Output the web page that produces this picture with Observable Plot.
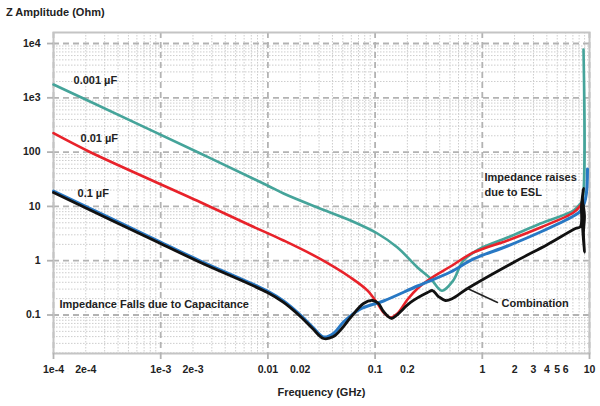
<!DOCTYPE html>
<html><head><meta charset="utf-8">
<script src="https://cdn.jsdelivr.net/npm/d3@7"></script>
<script src="https://cdn.jsdelivr.net/npm/@observablehq/plot@0.6"></script>
<style>
body{margin:0;background:#fff;font-family:"Liberation Sans",Arial,sans-serif;}
#title{height:24px;line-height:24px;padding-left:6px;font-weight:bold;font-size:11px;color:#222;}
</style></head><body>
<div id="title">Z Amplitude (Ohm)</div>
<div id="chart"></div>
<script>
// Frequency in GHz, impedance in Ohm
const tealF = [1e-4, 1.905e-4, 2.35e-3, 9.91e-3, 0.0140, 0.0290, 0.0590, 0.1052, 0.1618, 0.2488, 0.329, 0.42, 0.53, 0.668, 0.962, 1.718, 3.49, 7.09, 8.24, 8.60, 8.79];
const tealZ = [1758, 971, 94.2, 24.3, 17.3, 9.55, 5.50, 3.17, 1.75, 0.750, 0.470, 0.280, 0.42, 1.01, 1.68, 2.67, 4.84, 8.40, 11.3, 12.85, 7760];

const redF = [1e-4, 2.21e-4, 2.35e-3, 6.89e-3, 0.0140, 0.0290, 0.0590, 0.0850, 0.1052, 0.1198, 0.1393, 0.1618, 0.2006, 0.2488, 0.329, 0.505, 0.8285, 1.718, 3.49, 7.09, 8.24, 8.79];
const redZ = [223, 99.5, 11.95, 4.45, 2.36, 1.15, 0.491, 0.282, 0.163, 0.111, 0.0900, 0.1066, 0.193, 0.307, 0.470, 0.782, 1.42, 2.36, 4.09, 7.72, 10.4, 12.85];

const blueF = [1e-4, 9.96e-4, 2.35e-3, 9.91e-3, 0.0140, 0.0201, 0.0261, 0.0330, 0.0409, 0.0507, 0.0731, 0.1198, 0.2488, 0.505, 0.8285, 1.718, 3.49, 7.09, 8.24, 9.18, 9.58];
const blueZ = [18.0, 2.07, 0.927, 0.259, 0.170, 0.0937, 0.0564, 0.0369, 0.043, 0.0697, 0.121, 0.170, 0.321, 0.581, 1.01, 1.75, 3.17, 6.25, 7.72, 12.85, 45.8];

const blackF = [1e-4, 9.96e-4, 2.35e-3, 9.91e-3, 0.0140, 0.0201, 0.0261, 0.0330, 0.0409, 0.0507, 0.0590, 0.0780, 0.0946, 0.1076, 0.1198, 0.1422, 0.1618, 0.2139, 0.3084, 0.343, 0.390, 0.4537, 0.527, 0.728, 1.954, 4.06, 7.40, 8.24, 8.42, 8.79, 8.60, 8.98, 8.79, 8.98, 8.79, 8.60, 8.79];
const blackZ = [18.0, 2.07, 0.927, 0.259, 0.170, 0.0937, 0.0564, 0.0369, 0.0402, 0.0614, 0.0900, 0.163, 0.185, 0.163, 0.116, 0.0863, 0.102, 0.170, 0.259, 0.282, 0.219, 0.185, 0.201, 0.307, 0.927, 1.99, 3.92, 4.26, 10.4, 21.4, 14.0, 6.80, 3.30, 1.42, 2.36, 5.06, 10.4];

const annoText = ["0.001 µF", "0.01 µF", "0.1 µF", "Impedance Falls due to Capacitance", "Impedance raises", "due to ESL", "Combination"];
const annoF = [1.537e-4, 1.787e-4, 1.675e-4, 1.137e-4, 1.048, 1.048, 1.51];
const annoZ = [2083, 178, 17.3, 0.156, 34.0, 18.0, 0.163];

const leaderF = [0.728, 1.387];
const leaderZ = [0.307, 0.170];

const xTicks = [1e-4, 2e-4, 1e-3, 2e-3, 0.01, 0.02, 0.1, 0.2, 1, 2, 3, 4, 5, 6, 10];
const xTickLabels = ["1e-4", "2e-4", "1e-3", "2e-3", "0.01", "0.02", "0.1", "0.2", "1", "2", "3", "4", "5", "6", "10"];
const yTicks = [1e4, 1e3, 100, 10, 1, 0.1];
const yTickLabels = ["1e4", "1e3", "100", "10", "1", "0.1"];
const xDecades = [1e-4, 1e-3, 1e-2, 1e-1, 1, 10];
const yDecades = [0.1, 1, 10, 100, 1e3, 1e4];

const toRows = (F, Z) => F.map((f, i) => ({f, z: Z[i]}));
const minor = (decs) => decs.flatMap(d => [2,3,4,5,6,7,8,9].map(k => d * k));
const xMinor = minor([1e-4, 1e-3, 1e-2, 1e-1, 1]);
const yMinor = minor([0.01, 0.1, 1, 10, 100, 1e3, 1e4]).filter(v => v < 15960);
const annos = annoText.map((t, i) => ({t, f: annoF[i], z: annoZ[i]}));

const chart = Plot.plot({
  width: 600, height: 382,
  marginLeft: 53, marginRight: 11, marginTop: 8, marginBottom: 53,
  x: {type: "log", domain: [1e-4, 10]},
  y: {type: "log", domain: [0.01954, 15960]},
  style: {fontFamily: "'Liberation Sans', Arial, sans-serif", fontWeight: "bold", color: "#222", background: "#fff"},
  marks: [
    Plot.ruleX(xMinor, {stroke: "#cdcdcd", strokeWidth: 1, strokeDasharray: "1.5,1.5"}),
    Plot.ruleY(yMinor, {stroke: "#cdcdcd", strokeWidth: 1, strokeDasharray: "1.5,1.5"}),
    Plot.ruleX(xDecades, {stroke: "#b3b3b3", strokeWidth: 1.8, strokeDasharray: "6,4"}),
    Plot.ruleY(yDecades, {stroke: "#b3b3b3", strokeWidth: 1.8, strokeDasharray: "6,4"}),
    Plot.frame({stroke: "#c4c4c4", strokeWidth: 2}),
    Plot.axisX(xDecades, {tickSize: 6, text: () => "", stroke: "#b3b3b3", strokeWidth: 1.8, label: null}),
    Plot.axisY(yTicks, {tickSize: 6, text: () => "", stroke: "#b3b3b3", strokeWidth: 1.8, label: null}),
    Plot.axisX(xTicks, {tickSize: 0, tickPadding: 12, text: xTickLabels, fontSize: 10.5, fill: "#222", label: null}),
    Plot.axisY(yTicks, {tickSize: 0, tickPadding: 13, text: yTickLabels, fontSize: 10.5, fill: "#222", label: null}),
    Plot.axisX([], {tickSize: 0, label: "Frequency (GHz)", labelAnchor: "center", labelArrow: "none", labelOffset: 42, dx: 6, fontSize: 11, fill: "#222"}),
    Plot.line(toRows(tealF, tealZ), {x: "f", y: "z", stroke: "#45a49a", strokeWidth: 2.6, curve: "catmull-rom"}),
    Plot.line(toRows(redF, redZ), {x: "f", y: "z", stroke: "#e8222a", strokeWidth: 2.6, curve: "catmull-rom"}),
    Plot.line(toRows(blueF, blueZ), {x: "f", y: "z", stroke: "#2878c4", strokeWidth: 3, dy: -1.5, curve: "catmull-rom"}),
    Plot.line(toRows(blackF, blackZ), {x: "f", y: "z", stroke: "#111", strokeWidth: 2.8, curve: "catmull-rom"}),
    Plot.line(toRows(leaderF, leaderZ), {x: "f", y: "z", stroke: "#222", strokeWidth: 1.5}),
    Plot.text(annos, {x: "f", y: "z", text: "t", textAnchor: "start", fontSize: 11, fontWeight: "bold", fill: "#222"})
  ]
});
document.getElementById("chart").appendChild(chart);
</script>
</body></html>
